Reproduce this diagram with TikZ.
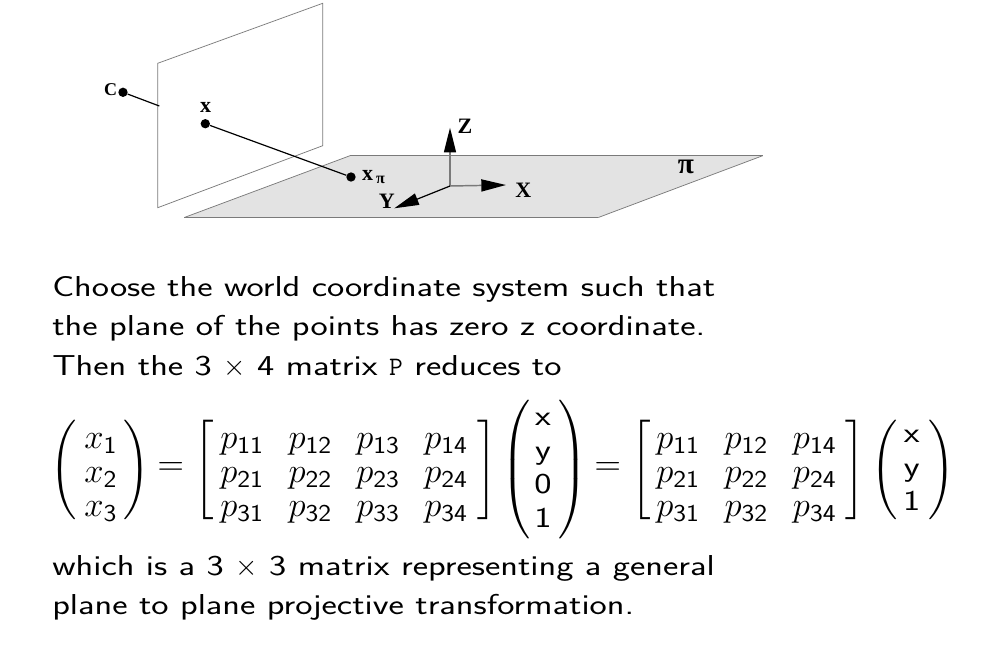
\documentclass[tikz,border=0pt]{standalone}
\usepackage{fix-cm}
\usepackage{amsmath}
\usepackage[no-math]{fontspec}
\newfontfamily\labfont{Liberation Serif}[Ligatures=TeX]
\newfontfamily\slidefont{Latin Modern Sans}[FakeStretch=1.27]
\newfontfamily\subfont{Latin Modern Sans}[FakeStretch=1.12]
\usetikzlibrary{arrows.meta}
\definecolor{planegray}{HTML}{E3E3E3}
\definecolor{edgegray}{HTML}{7A7A7A}
\tikzset{
  bodytext/.style={anchor=base west,inner sep=0pt,font=\fontsize{21.6}{30}\selectfont\slidefont},
  entry/.style={anchor=base west,inner sep=0pt,font=\fontsize{26}{30}\selectfont},
  centry/.style={anchor=base,inner sep=0pt,font=\fontsize{21.6}{30}\selectfont\slidefont},
  delim/.style={anchor=center,inner sep=0pt,font=\fontsize{24}{30}\selectfont},
  eqsign/.style={anchor=center,inner sep=0pt,font=\fontsize{27.4}{30}\selectfont},
  lab/.style={anchor=center,inner sep=0pt,font=\fontsize{16.5}{18}\selectfont\labfont\bfseries},
  smalllab/.style={anchor=center,inner sep=0pt,font=\fontsize{12}{13}\selectfont\labfont\bfseries},
  dot/.style={circle,fill=black,inner sep=0pt,minimum size=7pt},
  ray/.style={line width=.9pt,black},
  axis/.style={line width=1.1pt,edgegray},
  axtip/.style={-{Triangle[length=18.5pt,width=9pt,black]}},
}
\newcommand{\dl}[5]{\node[delim] (#1) at (#2,#3) {$\nulldelimiterspace=0pt\left#4\vcenter{\hbox{\rule{0pt}{#5}}}\right.$};}
\newcommand{\dr}[5]{\node[delim] (#1) at (#2,#3) {$\nulldelimiterspace=0pt\left.\vcenter{\hbox{\rule{0pt}{#5}}}\right#4$};}
\newcommand{\subd}[1]{\text{\subfont #1}}
\newcommand{\pent}[4]{\node[entry] (#1) at (#2,#3) {$p_{\subd{#4}}$};}
\begin{document}
\begin{tikzpicture}[x=0.75pt,y=-0.75pt]
\useasboundingbox (0,0) rectangle (990,650);
% image plane
\draw[line width=.55pt,edgegray] (157.7,63.3) -- (322.7,3.3) -- (322.7,145.7) -- (157.7,207.7) -- cycle;
% ground plane
\fill[planegray] (350,155.7) -- (762.7,155.7) -- (598.3,217.5) -- (184.3,217.5) -- cycle;
\draw[line width=1.1pt,edgegray] (350,155.7) -- (762.7,155.7);
\draw[line width=1.1pt,edgegray] (184.3,217.5) -- (598.3,217.5);
\draw[line width=.55pt,edgegray] (350,155.7) -- (184.3,217.5);
\draw[line width=.55pt,edgegray] (762.7,155.7) -- (598.3,217.5);
% points and rays
\node[dot] (C) at (123,92.3) {};
\coordinate (Cend) at (159.3,106);
\node[dot] (xp) at (205.3,123.7) {};
\node[dot] (xpi) at (351,177) {};
\draw[ray] (C) -- (Cend);
\draw[ray] (xp) -- (xpi);
\node[lab] (Clab) at (110.7,90) {\fontsize{13.5}{15}\selectfont C};
\node[lab] (xlab) at (205.7,107.5) {x};
\node[lab] (xpilab) at (367.7,175.5) {x};
\node[smalllab] (xpisub) at (380.5,179.5) {π};
% axes
\coordinate (O) at (450,186);
\coordinate (Ztip) at (450,127.7);
\coordinate (Xtip) at (506,185);
\coordinate (Ytip) at (394.3,208.3);
\draw[axis,axtip] (O) -- (Ztip);
\draw[axis,axtip] (O) -- (Xtip);
\draw[ray,axtip] (O) -- (Ytip);
\node[lab] (Zlab) at (465,126) {Z};
\node[lab] (Xlab) at (523.3,190.7) {X};
\node[lab] (Ylab) at (386.7,201.7) {Y};
\node[lab] (pilab) at (686,166.7) {\fontsize{22}{24}\selectfont π};
% text
\node[bodytext] (t1) at (52,296) {Choose the world coordinate system such that};
\node[bodytext] (t2) at (52,335.5) {the plane of the points has zero z coordinate.};
\node[bodytext] (t3) at (52,375) {Then the 3 $\times$ 4 matrix {\ttfamily\fontsize{20}{24}\selectfont P} reduces to};
\node[bodytext] (t4) at (52,575) {which is a 3 $\times$ 3 matrix representing a general};
\node[bodytext] (t5) at (52,614) {plane to plane projective transformation.};
% left vector
\dl{a1}{64}{469.5}{(}{77pt}
\dr{a2}{137}{469.5}{)}{77pt}
\node[entry] (x1) at (84,448) {$x_{\subd{1}}$};
\node[entry] (x2) at (84,482) {$x_{\subd{2}}$};
\node[entry] (x3) at (84,516) {$x_{\subd{3}}$};
\node[eqsign] (e1) at (170.7,469.3) {$=$};
% first matrix
\dl{b1}{204}{469.5}{[}{77pt}
\dr{b2}{487.5}{469.5}{]}{77pt}
\foreach \c/\cx in {1/220,2/288.3,3/356,4/424}{
  \foreach \r/\ry in {1/448,2/482,3/516}{
    \pent{m\r\c}{\cx}{\ry}{\r\c}
  }
}
% second vector
\dl{c1}{516}{469.5}{(}{100pt}
\dr{c2}{573}{469.5}{)}{100pt}
\node[centry] (v1) at (543,425) {x};
\node[centry] (v2) at (543,459) {y};
\node[centry] (v3) at (543,493) {0};
\node[centry] (v4) at (543,527) {1};
\node[eqsign] (e2) at (607.7,469.3) {$=$};
% second matrix
\dl{d1}{641}{469.5}{[}{77pt}
\dr{d2}{855.5}{469.5}{]}{77pt}
\foreach \c/\l/\cx in {1/1/656,2/2/724.3,3/4/792.7}{
  \foreach \r/\ry in {1/448,2/482,3/516}{
    \pent{n\r\c}{\cx}{\ry}{\r\l}
  }
}
% third vector
\dl{f1}{885}{469.5}{(}{77pt}
\dr{f2}{942}{469.5}{)}{77pt}
\node[centry] (w1) at (911.7,442.7) {x};
\node[centry] (w2) at (911.7,476.5) {y};
\node[centry] (w3) at (911.7,510) {1};
\end{tikzpicture}
\end{document}
